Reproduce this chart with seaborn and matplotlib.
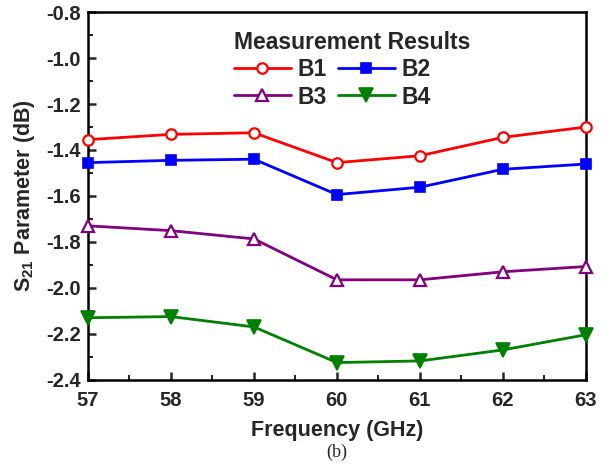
import matplotlib
matplotlib.use("Agg")
import matplotlib.pyplot as plt
import seaborn as sns
import pandas as pd
from matplotlib.ticker import MultipleLocator

freq = [57, 58, 59, 60, 61, 62, 63]
b1 = [-1.355, -1.332, -1.325, -1.455, -1.425, -1.345, -1.300]
b2 = [-1.455, -1.445, -1.440, -1.594, -1.562, -1.484, -1.461]
b3 = [-1.730, -1.751, -1.787, -1.965, -1.965, -1.930, -1.907]
b4 = [-2.130, -2.125, -2.170, -2.325, -2.318, -2.270, -2.204]
series_names = ["B1", "B2", "B3", "B4"]
x_ticks = [57, 58, 59, 60, 61, 62, 63]
y_ticks = [-0.8, -1.0, -1.2, -1.4, -1.6, -1.8, -2.0, -2.2, -2.4]

sns.set_style("ticks")
plt.rcParams['font.family'] = ['Liberation Sans', 'DejaVu Sans']
plt.rcParams['mathtext.fontset'] = 'custom'
plt.rcParams['mathtext.rm'] = 'Liberation Sans:bold'
plt.rcParams['mathtext.bf'] = 'Liberation Sans:bold'

fig = plt.figure(figsize=(6.09, 4.66), dpi=100)
ax = fig.add_axes([0.1445, 0.185, 0.8175, 0.789])

styles = {
    "B1": dict(color="#ff0000", marker="o", markerfacecolor="white", markersize=7.5, markeredgewidth=1.6),
    "B2": dict(color="#0000ff", marker="s", markerfacecolor="#0000ff", markersize=7, markeredgewidth=1.2),
    "B3": dict(color="#800080", marker="^", markerfacecolor="white", markersize=9, markeredgewidth=1.6),
    "B4": dict(color="#008000", marker="v", markerfacecolor="#008000", markersize=9.5, markeredgewidth=1.2),
}
data = {"B1": b1, "B2": b2, "B3": b3, "B4": b4}
handles = {}
for name in series_names:
    df = pd.DataFrame({"freq": freq, "val": data[name]})
    st = styles[name]
    sns.lineplot(data=df, x="freq", y="val", ax=ax, color=st["color"], linewidth=2,
                 marker=st["marker"], markerfacecolor=st["markerfacecolor"],
                 markeredgecolor=st["color"], markersize=st["markersize"],
                 markeredgewidth=st["markeredgewidth"], legend=False, clip_on=False, zorder=3)
    handles[name] = ax.lines[-1]

ax.set_xlim(57, 63)
ax.set_ylim(-2.4, -0.8)
ax.set_xticks(x_ticks)
ax.set_yticks(y_ticks)
ax.set_yticklabels([f"{v:.1f}" for v in y_ticks])
ax.xaxis.set_minor_locator(MultipleLocator(0.5))
ax.yaxis.set_minor_locator(MultipleLocator(0.1))
ax.tick_params(axis="both", which="major", direction="in", length=6, width=1.8,
               labelsize=14.5, top=False, right=False)
ax.tick_params(axis="x", which="major", pad=8)
ax.tick_params(axis="y", which="major", pad=5)
ax.tick_params(axis="both", which="minor", direction="in", length=3.5, width=1.5,
               top=False, right=False)
for lab in ax.get_xticklabels() + ax.get_yticklabels():
    lab.set_fontweight("bold")
for sp in ax.spines.values():
    sp.set_visible(True)
    sp.set_linewidth(1.8)
    sp.set_color("black")

ax.set_xlabel("Frequency (GHz)", fontsize=15.5, fontweight="bold", labelpad=7)
ax.set_ylabel(r"S$_{21}$ Parameter (dB)", fontsize=15.5, fontweight="bold", labelpad=7)

order = ["B1", "B3", "B2", "B4"]
leg = ax.legend([handles[n] for n in order], order, ncol=2, frameon=False,
                loc="upper center", bbox_to_anchor=(0.53, 1.004),
                title="Measurement Results", alignment="left",
                prop={"weight": "bold", "size": 16.5},
                title_fontproperties={"weight": "bold", "size": 16.5},
                handlelength=2.5, columnspacing=0.45, handletextpad=0.3,
                labelspacing=0.18)

fig.text(0.5535, 0.03, "(b)", ha="center", va="center", fontsize=13,
         family=["Liberation Serif", "DejaVu Serif"])

fig.savefig("out.png", dpi=100)
